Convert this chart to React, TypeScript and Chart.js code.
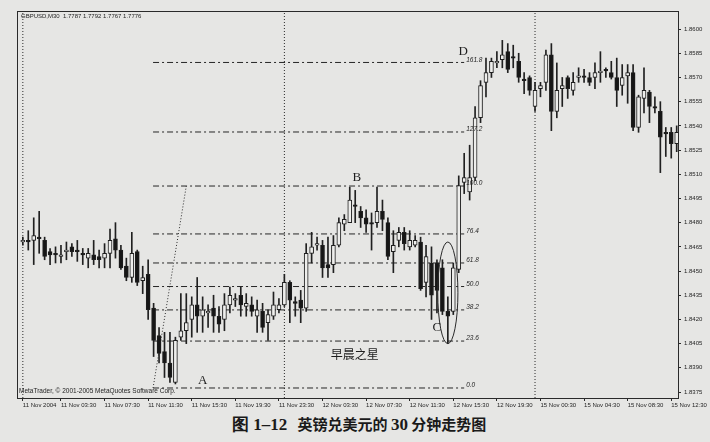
import React, { useEffect, useRef } from 'react';
import { Chart, registerables } from 'chart.js';

Chart.register(...registerables);

// ---------- data ----------
const SESSIONS = [
  { day: '11 Nov', bars: 48 },
  { day: '12 Nov', bars: 46 },
  { day: '15 Nov', bars: 27 },
];
const CATEGORIES: string[] = SESSIONS.flatMap((s) =>
  Array.from({ length: s.bars }, (_, k) => {
    const h = String(Math.floor(k / 2)).padStart(2, '0');
    return `${s.day} ${h}:${k % 2 ? '30' : '00'}`;
  })
);

const OPEN = [
  1.8468, 1.8469, 1.8469, 1.8471, 1.8469, 1.8462, 1.8461, 1.8459, 1.8462, 1.8465,
  1.8463, 1.8461, 1.8458, 1.8460, 1.8459, 1.8458, 1.8461, 1.8470, 1.8463, 1.8453,
  1.8446, 1.8462, 1.8444, 1.8448, 1.8427, 1.8410, 1.8400, 1.8393, 1.8381, 1.8409,
  1.8413, 1.8420, 1.8429, 1.8422, 1.8424, 1.8427, 1.8422, 1.8420, 1.8429, 1.8432,
  1.8435, 1.8428, 1.8429, 1.8422, 1.8425, 1.8418, 1.8422, 1.8426, 1.8429, 1.8443,
  1.8431, 1.8432, 1.8427, 1.8461, 1.8466, 1.8466, 1.8454, 1.8454, 1.8466, 1.8479,
  1.8480, 1.8491, 1.8487, 1.8483, 1.8480, 1.8480, 1.8487, 1.8480, 1.8462, 1.8469,
  1.8474, 1.8465, 1.8466, 1.8468, 1.8443, 1.8455, 1.8455, 1.8452, 1.8425, 1.8425,
  1.8451, 1.8505, 1.8499, 1.8508, 1.8545, 1.8567, 1.8573, 1.8579, 1.8581, 1.8586,
  1.8583, 1.8580, 1.8569, 1.8570, 1.8552, 1.8563, 1.8567, 1.8584, 1.8549, 1.8563,
  1.8570, 1.8562, 1.8570, 1.8571, 1.8570, 1.8570, 1.8573, 1.8575, 1.8573, 1.8570,
  1.8565, 1.8571, 1.8573, 1.8539, 1.8557, 1.8561, 1.8552, 1.8549, 1.8536, 1.8536,
  1.8529,
];
const HIGH = [
  1.8471, 1.8475, 1.8483, 1.8487, 1.8471, 1.8464, 1.8465, 1.8466, 1.8468, 1.8467,
  1.8469, 1.8464, 1.8464, 1.8469, 1.8463, 1.8467, 1.8476, 1.8480, 1.8466, 1.8458,
  1.8474, 1.8463, 1.8453, 1.8457, 1.8430, 1.8415, 1.8412, 1.8412, 1.8409, 1.8436,
  1.8436, 1.8434, 1.8446, 1.8434, 1.8429, 1.8435, 1.8428, 1.8436, 1.8440, 1.8436,
  1.8440, 1.8436, 1.8434, 1.8432, 1.8430, 1.8426, 1.8437, 1.8433, 1.8448, 1.8444,
  1.8434, 1.8438, 1.8467, 1.8474, 1.8471, 1.8469, 1.8471, 1.8472, 1.8483, 1.8485,
  1.8502, 1.8500, 1.8490, 1.8488, 1.8486, 1.8502, 1.8494, 1.8483, 1.8475, 1.8477,
  1.8477, 1.8475, 1.8472, 1.8471, 1.8466, 1.8465, 1.8457, 1.8457, 1.8434, 1.8455,
  1.8509, 1.8523, 1.8528, 1.8552, 1.8568, 1.8582, 1.8582, 1.8586, 1.8593, 1.8591,
  1.8590, 1.8585, 1.8573, 1.8571, 1.8567, 1.8567, 1.8587, 1.8591, 1.8579, 1.8570,
  1.8571, 1.8573, 1.8576, 1.8575, 1.8573, 1.8579, 1.8586, 1.8576, 1.8580, 1.8582,
  1.8578, 1.8578, 1.8578, 1.8559, 1.8576, 1.8562, 1.8558, 1.8555, 1.8539, 1.8539,
  1.8540,
];
const LOW = [
  1.8466, 1.8463, 1.8454, 1.8461, 1.8457, 1.8454, 1.8455, 1.8455, 1.8457, 1.8459,
  1.8456, 1.8454, 1.8452, 1.8454, 1.8452, 1.8452, 1.8452, 1.8458, 1.8451, 1.8444,
  1.8443, 1.8441, 1.8436, 1.8420, 1.8397, 1.8393, 1.8384, 1.8381, 1.8380, 1.8407,
  1.8405, 1.8409, 1.8412, 1.8412, 1.8415, 1.8412, 1.8412, 1.8413, 1.8424, 1.8428,
  1.8422, 1.8422, 1.8422, 1.8412, 1.8412, 1.8407, 1.8420, 1.8424, 1.8428, 1.8418,
  1.8422, 1.8418, 1.8425, 1.8455, 1.8463, 1.8446, 1.8446, 1.8449, 1.8465, 1.8475,
  1.8480, 1.8480, 1.8477, 1.8474, 1.8463, 1.8477, 1.8475, 1.8457, 1.8449, 1.8465,
  1.8463, 1.8463, 1.8465, 1.8438, 1.8434, 1.8420, 1.8424, 1.8423, 1.8405, 1.8423,
  1.8449, 1.8498, 1.8494, 1.8506, 1.8542, 1.8558, 1.8570, 1.8576, 1.8576, 1.8573,
  1.8576, 1.8567, 1.8560, 1.8559, 1.8549, 1.8558, 1.8562, 1.8537, 1.8545, 1.8552,
  1.8557, 1.8559, 1.8567, 1.8567, 1.8565, 1.8563, 1.8567, 1.8570, 1.8569, 1.8552,
  1.8559, 1.8554, 1.8537, 1.8536, 1.8548, 1.8542, 1.8548, 1.8511, 1.8521, 1.8520,
  1.8524,
];
const CLOSE = [
  1.8469, 1.8468, 1.8472, 1.8470, 1.8459, 1.8460, 1.8460, 1.8460, 1.8463, 1.8462,
  1.8462, 1.8460, 1.8461, 1.8457, 1.8457, 1.8461, 1.8469, 1.8463, 1.8452, 1.8446,
  1.8461, 1.8443, 1.8446, 1.8426, 1.8407, 1.8399, 1.8393, 1.8384, 1.8407, 1.8413,
  1.8418, 1.8429, 1.8422, 1.8426, 1.8425, 1.8422, 1.8417, 1.8429, 1.8435, 1.8433,
  1.8429, 1.8430, 1.8425, 1.8426, 1.8415, 1.8423, 1.8429, 1.8429, 1.8443, 1.8432,
  1.8430, 1.8427, 1.8461, 1.8465, 1.8467, 1.8452, 1.8452, 1.8466, 1.8480, 1.8482,
  1.8494, 1.8490, 1.8483, 1.8479, 1.8479, 1.8487, 1.8482, 1.8459, 1.8466, 1.8474,
  1.8467, 1.8469, 1.8469, 1.8439, 1.8459, 1.8435, 1.8438, 1.8425, 1.8422, 1.8452,
  1.8503, 1.8508, 1.8508, 1.8545, 1.8565, 1.8573, 1.8580, 1.8580, 1.8584, 1.8575,
  1.8582, 1.8570, 1.8568, 1.8562, 1.8562, 1.8565, 1.8584, 1.8549, 1.8562, 1.8565,
  1.8563, 1.8567, 1.8571, 1.8570, 1.8567, 1.8573, 1.8574, 1.8574, 1.8570, 1.8562,
  1.8570, 1.8573, 1.8539, 1.8558, 1.8562, 1.8552, 1.8551, 1.8533, 1.8535, 1.8529,
  1.8536,
];

const Y_TICKS = [
  1.8375, 1.839, 1.8405, 1.842, 1.8435, 1.845, 1.8465, 1.848,
  1.8495, 1.851, 1.8525, 1.854, 1.8555, 1.857, 1.8585, 1.86,
];
const X_TICK_INDEX = [0, 7, 15, 23, 31, 39, 47, 55, 63, 71, 79, 87, 95, 103, 111, 119];
const FIRST_TICK_LABEL = '11 Nov 2004';

// Fibonacci retracement (level label, price)
const FIB_LABELS = ['0.0', '23.6', '38.2', '50.0', '61.8', '76.4', '100.0', '127.2', '161.8'];
const FIB_PRICES = [1.83775, 1.84066, 1.84259, 1.84404, 1.8455, 1.8473, 1.85027, 1.85362, 1.85793];
const FIB_FROM_BAR = 23.9;
const FIB_TO_BAR = 81.0;
const FIB_DIAG_TO_BAR = 30.0;

const DAY_SEPARATORS = [0, 48, 94];

const HEADER = 'GBPUSD,M30  1.7787 1.7792 1.7767 1.7776';
const COPYRIGHT = 'MetaTrader, © 2001-2005 MetaQuotes Software Corp.';
const MARKS = [
  { text: 'A', bar: 33, price: 1.8382 },
  { text: 'B', bar: 61.3, price: 1.8508 },
  { text: 'C', bar: 76, price: 1.8415 },
  { text: 'D', bar: 80.8, price: 1.8586 },
];
const STAR_LABEL = { text: '早晨之星', bar: 60.9, price: 1.8398 };
const STAR_ELLIPSE = { bar: 78, halfBars: 1.85, top: 1.8468, bottom: 1.8405 };

const Y_MIN = 1.83713;
const Y_MAX = 1.86112;
const X_MIN = -1.07;
const X_MAX = 120.24;

// ---------- style ----------
const BG = '#e6e6e4';
const INK = '#1e1e1e';
const FONT = '"Liberation Sans", Arial, sans-serif';

const annotPlugin = {
  id: 'annot',
  afterDatasetsDraw(chart: any) {
    const { ctx, chartArea: a, scales } = chart;
    const x = scales.x;
    const y = scales.y;
    ctx.save();
    ctx.beginPath();
    ctx.rect(a.left, a.top, a.right - a.left, a.bottom - a.top);
    ctx.clip();

    // ellipse around the morning star
    const cx = x.getPixelForValue(STAR_ELLIPSE.bar);
    const rx = x.getPixelForValue(STAR_ELLIPSE.bar + STAR_ELLIPSE.halfBars) - cx;
    const yt = y.getPixelForValue(STAR_ELLIPSE.top);
    const yb = y.getPixelForValue(STAR_ELLIPSE.bottom);
    ctx.beginPath();
    ctx.ellipse(cx, (yt + yb) / 2, rx, (yb - yt) / 2, 0, 0, Math.PI * 2);
    ctx.strokeStyle = '#2a2a2a';
    ctx.lineWidth = 1;
    ctx.stroke();

    // fib labels
    ctx.fillStyle = INK;
    ctx.font = `italic 6.5px ${FONT}`;
    ctx.textAlign = 'left';
    ctx.textBaseline = 'bottom';
    FIB_LABELS.forEach((t, i) => {
      ctx.fillText(t, x.getPixelForValue(FIB_TO_BAR) + 2, y.getPixelForValue(FIB_PRICES[i]) + 0.5);
    });

    // letters
    ctx.font = `13px "Liberation Serif", serif`;
    ctx.textAlign = 'center';
    ctx.textBaseline = 'middle';
    MARKS.forEach((m) => {
      ctx.fillText(m.text, x.getPixelForValue(m.bar), y.getPixelForValue(m.price));
    });
    ctx.font = `12px "Noto Sans CJK SC", sans-serif`;
    ctx.fillText(STAR_LABEL.text, x.getPixelForValue(STAR_LABEL.bar), y.getPixelForValue(STAR_LABEL.price));

    // header & copyright
    ctx.font = `6px ${FONT}`;
    ctx.textAlign = 'left';
    ctx.fillText(HEADER, a.left + 4, a.top + 5);
    ctx.font = `6.5px ${FONT}`;
    ctx.fillText(COPYRIGHT, a.left + 2, a.bottom - 7);
    ctx.restore();
  },
  afterDraw(chart: any) {
    const { ctx, chartArea: a } = chart;
    ctx.save();
    ctx.strokeStyle = '#2a2a2a';
    ctx.lineWidth = 1;
    ctx.strokeRect(Math.round(a.left) + 0.5, Math.round(a.top) + 0.5, Math.round(a.right - a.left), Math.round(a.bottom - a.top));
    ctx.restore();
  },
};

export default function App() {
  const ref = useRef<HTMLCanvasElement>(null);

  useEffect(() => {
    document.body.style.margin = '0';
    document.body.style.background = BG;
    const idx = CATEGORIES.map((_, i) => i);
    const lineBase = {
      type: 'line' as const,
      borderWidth: 1,
      pointRadius: 0,
      fill: false,
      tension: 0,
    };
    const datasets: any[] = [
      {
        type: 'bar',
        label: 'body',
        data: idx.map((i) => ({ x: i, y: [OPEN[i], CLOSE[i]] })),
        backgroundColor: idx.map((i) => (CLOSE[i] >= OPEN[i] ? '#eeeeec' : '#161616')),
        borderColor: INK,
        borderWidth: 1,
        borderSkipped: false,
        barThickness: 4,
        minBarLength: 1,
        grouped: false,
        order: 0,
      },
      {
        type: 'bar',
        label: 'wick',
        data: idx.map((i) => ({ x: i, y: [LOW[i], HIGH[i]] })),
        backgroundColor: '#202020',
        borderWidth: 0,
        barThickness: 1,
        grouped: false,
        order: 1,
      },
      ...FIB_PRICES.map((p) => ({
        ...lineBase,
        label: 'fib',
        data: [
          { x: FIB_FROM_BAR, y: p },
          { x: FIB_TO_BAR, y: p },
        ],
        borderColor: '#262626',
        borderDash: [6, 3, 2, 3],
        order: 2,
      })),
      {
        ...lineBase,
        label: 'fib-trend',
        data: [
          { x: FIB_FROM_BAR, y: FIB_PRICES[0] },
          { x: FIB_DIAG_TO_BAR, y: FIB_PRICES[6] },
        ],
        borderColor: '#2a2a2a',
        borderDash: [1, 2],
        order: 2,
      },
      ...DAY_SEPARATORS.map((d) => ({
        ...lineBase,
        label: 'day',
        data: [
          { x: d, y: Y_MIN },
          { x: d, y: Y_MAX },
        ],
        borderColor: '#2a2a2a',
        borderDash: [1, 2],
        order: 3,
      })),
    ];

    const chart = new Chart(ref.current as HTMLCanvasElement, {
      type: 'bar',
      data: { datasets },
      options: {
        animation: false,
        responsive: true,
        maintainAspectRatio: false,
        layout: { padding: { left: 17, top: 11, right: 0, bottom: 0 } },
        plugins: { legend: { display: false }, tooltip: { enabled: false } },
        scales: {
          x: {
            type: 'linear',
            min: X_MIN,
            max: X_MAX,
            offset: false,
            grid: { display: true, drawOnChartArea: false, drawTicks: true, tickLength: 3, color: '#2a2a2a', offset: false },
            border: { display: false },
            afterBuildTicks: (s: any) => {
              s.ticks = X_TICK_INDEX.map((v) => ({ value: v }));
            },
            afterFit: (s: any) => {
              s.height = 14;
              s.paddingLeft = 0;
              s.paddingRight = 0;
            },
            ticks: {
              autoSkip: false,
              maxRotation: 0,
              minRotation: 0,
              align: 'start',
              padding: 1,
              color: '#1e1e1e',
              font: { size: 6, family: FONT },
              callback: (v: any) => (v === 0 ? FIRST_TICK_LABEL : CATEGORIES[v]),
            },
          },
          y: {
            type: 'linear',
            position: 'right',
            min: Y_MIN,
            max: Y_MAX,
            grid: { display: true, drawOnChartArea: false, drawTicks: true, tickLength: 3, color: '#2a2a2a' },
            border: { display: false },
            afterBuildTicks: (s: any) => {
              s.ticks = Y_TICKS.map((v) => ({ value: v }));
            },
            afterFit: (s: any) => {
              s.width = 32;
              s.paddingTop = 0;
              s.paddingBottom = 0;
            },
            ticks: {
              padding: 3,
              color: '#1e1e1e',
              font: { size: 6, family: FONT },
              callback: (v: any) => Number(v).toFixed(4),
            },
          },
        },
      } as any,
      plugins: [annotPlugin],
    });
    return () => chart.destroy();
  }, []);

  return (
    <div style={{ position: 'relative', width: 710, height: 442, background: BG, overflow: 'hidden' }}>
      <div style={{ position: 'absolute', left: 0, top: 0, width: 710, height: 412 }}>
        <canvas ref={ref} />
      </div>
      <div
        style={{
          position: 'absolute',
          left: 232,
          top: 413,
          whiteSpace: 'pre',
          fontFamily: '"Noto Sans CJK SC", sans-serif',
          fontWeight: 700,
          fontSize: 15,
          lineHeight: '22px',
          color: '#1a1a1a',
        }}
      >
        <span style={{ fontFamily: '"Liberation Serif", serif', fontSize: 17 }}>图 1–12</span>
        <span>{'   英镑兑美元的 '}</span>
        <span style={{ fontFamily: '"Liberation Serif", serif', fontSize: 17 }}>30</span>
        <span>{' 分钟走势图 '}</span>
      </div>
    </div>
  );
}
